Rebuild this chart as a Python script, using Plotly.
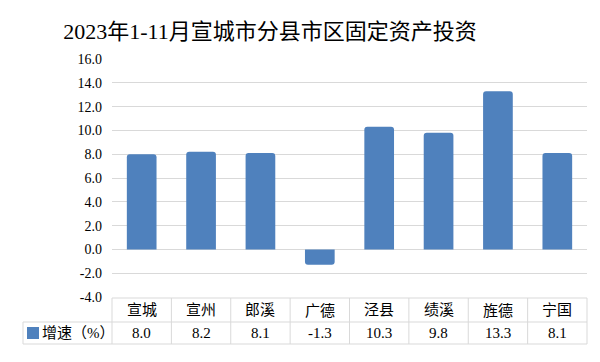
import plotly.graph_objects as go

title = "2023年1-11月宣城市分县市区固定资产投资"
categories = ["宣城", "宣州", "郎溪", "广德", "泾县", "绩溪", "旌德", "宁国"]
growth = [8.0, 8.2, 8.1, -1.3, 10.3, 9.8, 13.3, 8.1]
series_name = "增速（%）"
y_ticks = [-4, -2, 0, 2, 4, 6, 8, 10, 12, 14, 16]

BLUE = "#4F81BD"
GRID = "#d9d9d9"
FONT = "Liberation Serif, Noto Sans CJK SC, serif"

# page body has an 8px margin; lay out in screen coordinates and shift
OFF = 8
W, H = 600 - OFF, 362 - OFF
PX0, PX1, PY0, PY1 = 112, 587, 59, 297   # plot area on screen

L = PX0 - OFF
R = W - (PX1 - OFF)
T = PY0 - OFF
B = H - (PY1 - OFF)

fig = go.Figure()
fig.add_trace(go.Bar(
    x=categories, y=growth, marker=dict(color=BLUE, cornerradius=3,
                                        line=dict(width=0)),
    width=0.5, showlegend=False,
))

fig.update_layout(
    width=W, height=H,
    margin=dict(l=L, r=R, t=T, b=B),
    paper_bgcolor="white", plot_bgcolor="white",
    title=dict(text=title, x=(270 - OFF) / W, xanchor="center", y=1 - (31 - OFF) / H, yanchor="middle",
               font=dict(family=FONT, size=22, color="black")),
    xaxis=dict(showticklabels=False, showgrid=False, zeroline=False, showline=False,
               range=[-0.5, len(categories) - 0.5]),
    yaxis=dict(range=[-4, 16], tickvals=y_ticks,
               ticktext=[f"{v:.1f}" for v in y_ticks],
               showgrid=True, gridcolor=GRID, gridwidth=1,
               zeroline=True, zerolinecolor=GRID, zerolinewidth=1,
               showline=False, ticks="", ticklabelstandoff=9,
               tickfont=dict(family=FONT, size=14, color="black")),
    bargap=0.5,
)


def px(X):
    return (X - PX0) / (PX1 - PX0)


def py(Y):
    return (PY1 - Y) / (PY1 - PY0)


ytop, ymid, ybot = 298, 322, 344
xleft = 23
n = len(categories)
cw = (PX1 - PX0) / n

line = dict(color=GRID, width=1)
fig.add_shape(type="line", xref="paper", yref="paper", x0=px(PX0), x1=px(PX1), y0=py(ytop), y1=py(ytop), line=line)
fig.add_shape(type="line", xref="paper", yref="paper", x0=px(xleft), x1=px(PX1), y0=py(ymid), y1=py(ymid), line=line)
fig.add_shape(type="line", xref="paper", yref="paper", x0=px(xleft), x1=px(PX1), y0=py(ybot), y1=py(ybot), line=line)
fig.add_shape(type="line", xref="paper", yref="paper", x0=px(xleft), x1=px(xleft), y0=py(ymid), y1=py(ybot), line=line)
for i in range(n + 1):
    xx = PX0 + i * cw
    fig.add_shape(type="line", xref="paper", yref="paper", x0=px(xx), x1=px(xx), y0=py(ytop), y1=py(ybot), line=line)

for i, (c, v) in enumerate(zip(categories, growth)):
    cx = PX0 + (i + 0.5) * cw
    fig.add_annotation(xref="paper", yref="paper", x=px(cx), y=py((ytop + ymid) / 2),
                       text=c, showarrow=False, xanchor="center", yanchor="middle",
                       font=dict(family=FONT, size=15, color="black"))
    fig.add_annotation(xref="paper", yref="paper", x=px(cx), y=py((ymid + ybot) / 2),
                       text=f"{v:.1f}", showarrow=False, xanchor="center", yanchor="middle",
                       font=dict(family=FONT, size=15, color="black"))

fig.add_shape(type="rect", xref="paper", yref="paper", x0=px(27), x1=px(39),
              y0=py(339), y1=py(327), fillcolor=BLUE, line=dict(width=0))
fig.add_annotation(xref="paper", yref="paper", x=px(40), y=py((ymid + ybot) / 2),
                   text=series_name, showarrow=False, xanchor="left", yanchor="middle",
                   font=dict(family=FONT, size=15, color="black"))

fig.write_html("out.html")
